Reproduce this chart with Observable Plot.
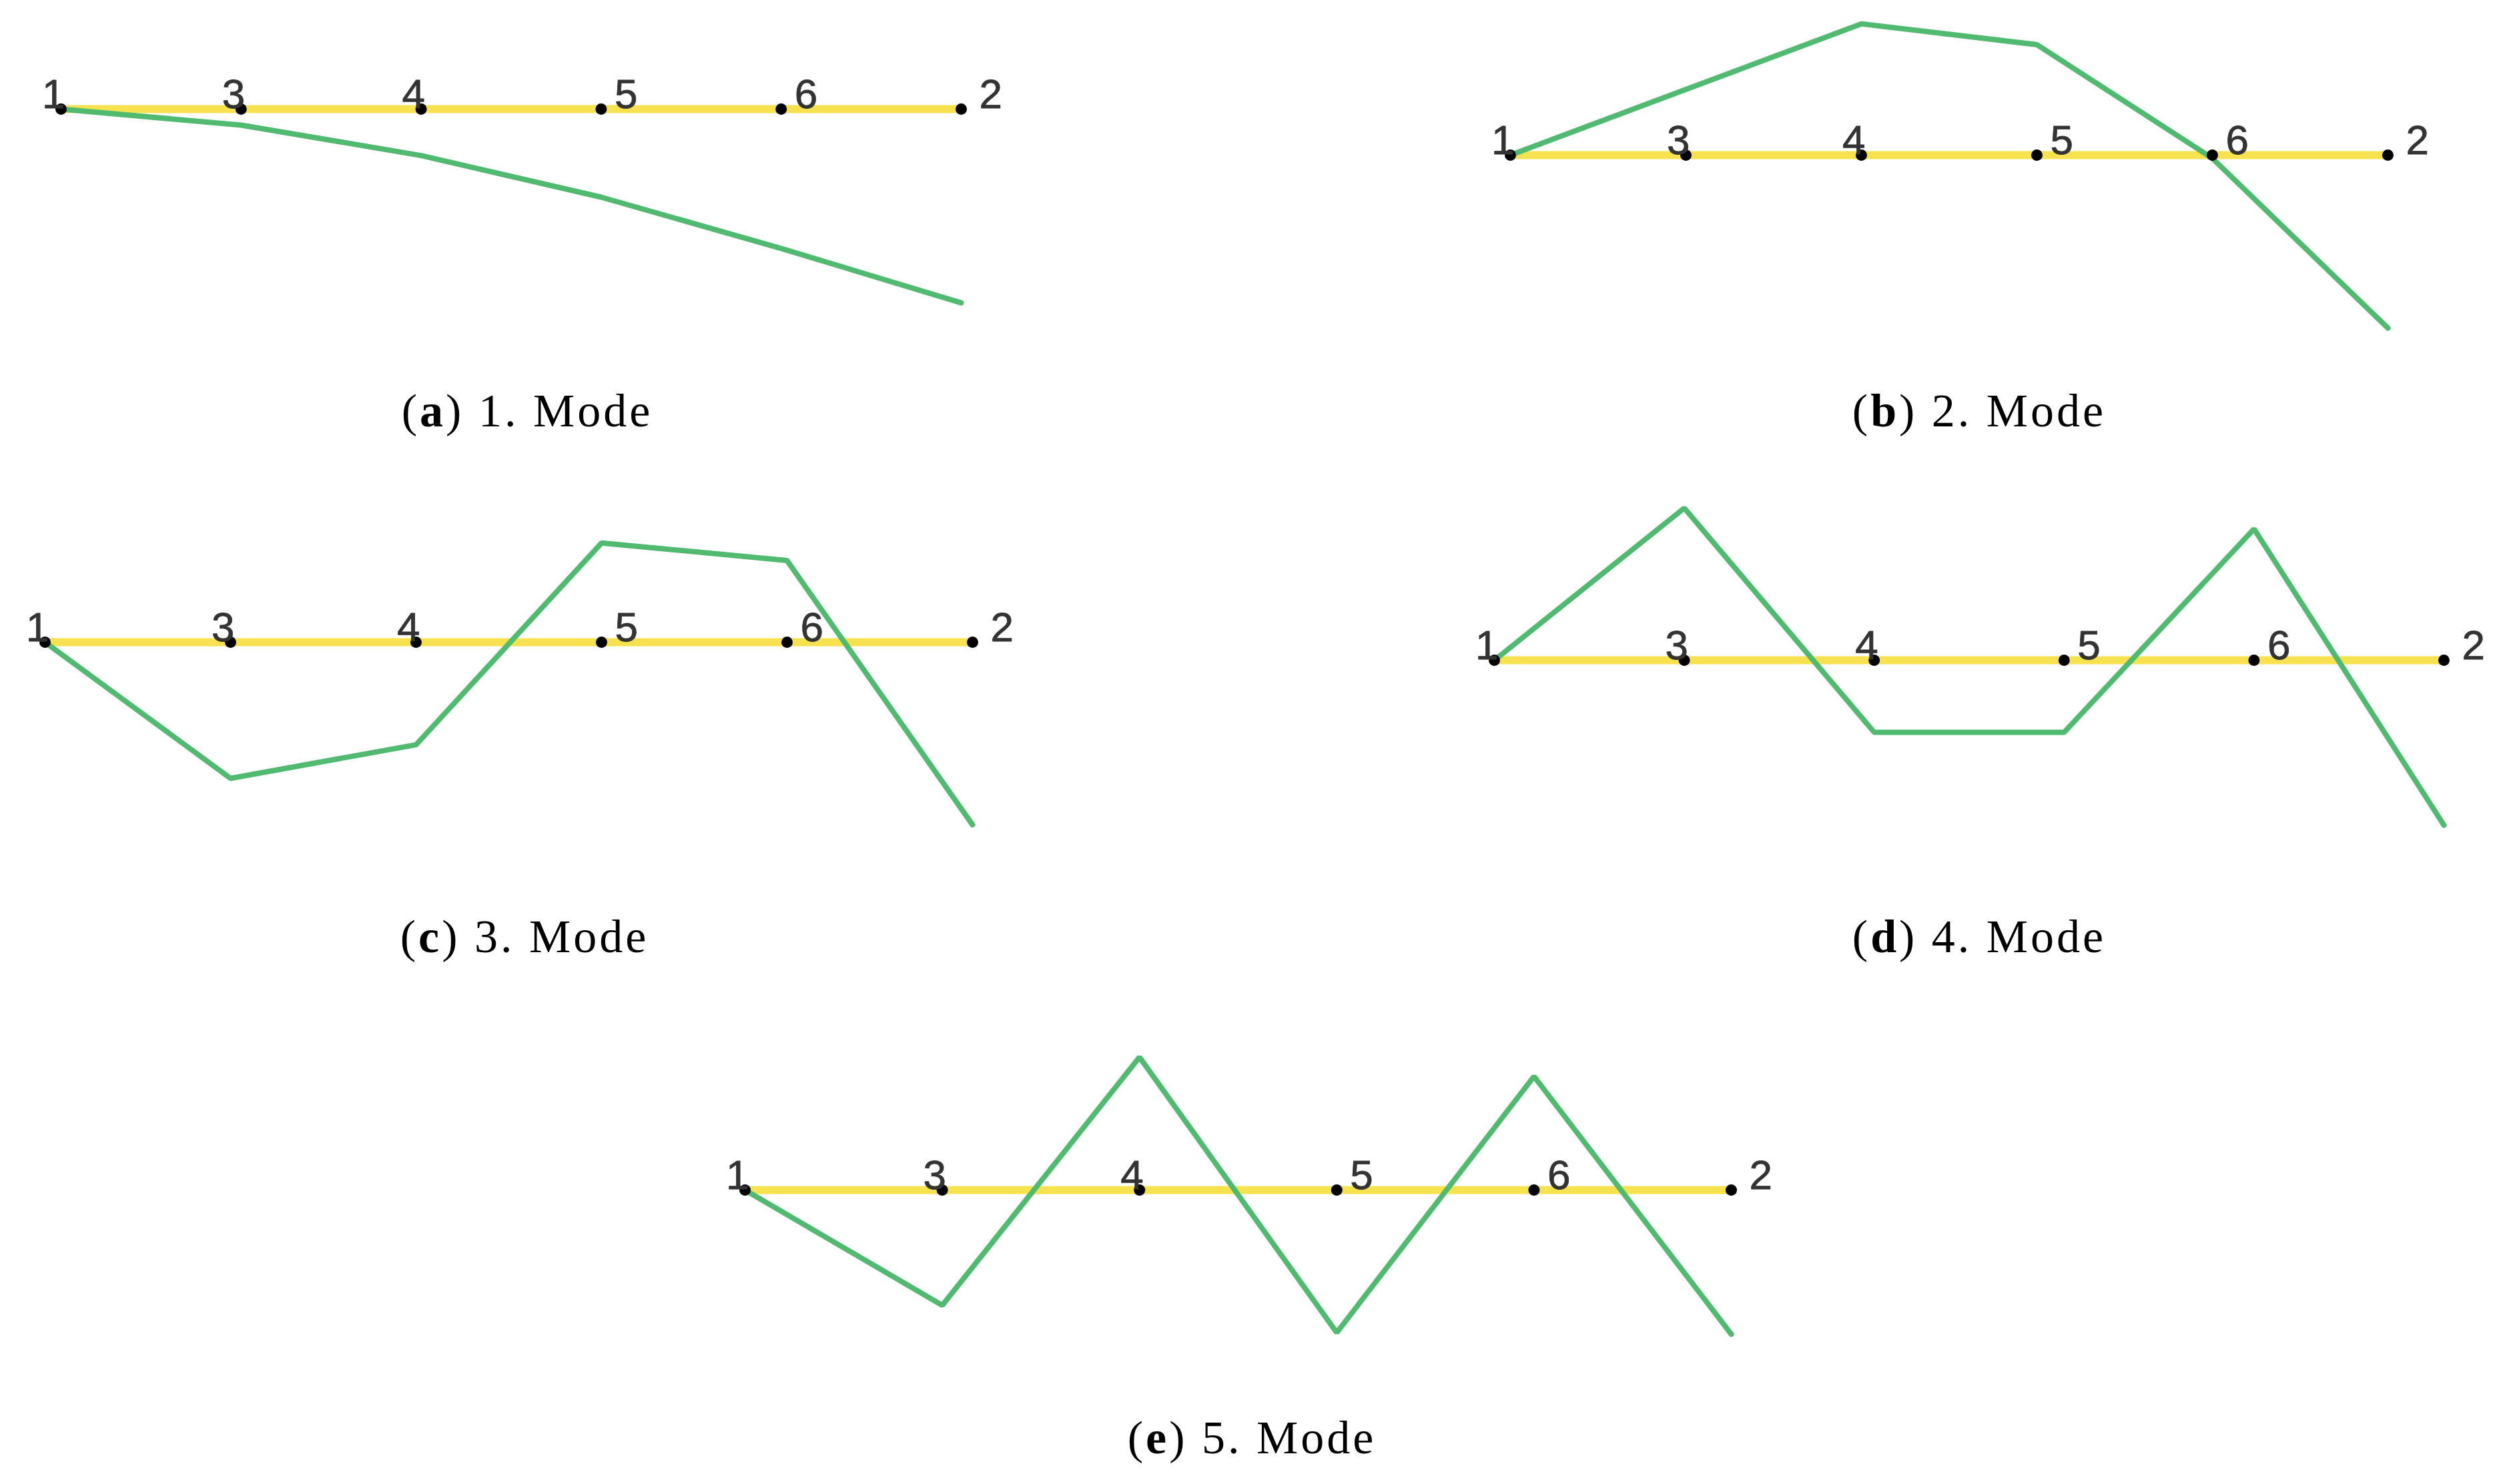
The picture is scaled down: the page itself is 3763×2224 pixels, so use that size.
<!DOCTYPE html>
<html>
<head>
<meta charset="utf-8">
<script src="https://cdn.jsdelivr.net/npm/d3@7"></script>
<script src="https://cdn.jsdelivr.net/npm/@observablehq/plot@0.6"></script>
<style>
  html, body { margin: 0; padding: 0; background: #ffffff; }
  #page { position: relative; width: 3763px; height: 2224px; overflow: hidden; background: #ffffff; }
  .panel { position: absolute; }
  .panel svg { overflow: visible; }
  .caption {
    position: absolute;
    transform: translateX(-50%);
    font-family: "Liberation Serif", "Times New Roman", serif;
    font-size: 70px;
    line-height: 1;
    letter-spacing: 4px;
    white-space: nowrap;
    color: #000;
  }
  .caption b { font-weight: bold; }
</style>
</head>
<body>
<div id="page"></div>
<script>
// ---- data ----
const nodeLabels = ["1", "3", "4", "5", "6", "2"];
const nodeIndex = [0, 1, 2, 3, 4, 5];
// modal deflections (upward positive) at each node
const mode1 = [0, -10, -29, -55, -87, -121];
const mode2 = [0, 41, 82, 69, -2, -108];
const mode3 = [0, -85, -64, 62, 51, -114];
const mode4 = [0, 95, -45, -45, 82, -103];
const mode5 = [0, -72, 83, -89, 71, -90];
const panelLetters = ["a", "b", "c", "d", "e"];
const panelTitles = ["1. Mode", "2. Mode", "3. Mode", "4. Mode", "5. Mode"];
const modes = [mode1, mode2, mode3, mode4, mode5];

// ---- layout (pixels on the page) ----
const layout = [
  {x1: 91,   x2: 1440, base: 163,  cx: 790,  cy: 638},
  {x1: 2263, x2: 3578, base: 232,  cx: 2966, cy: 638},
  {x1: 67,   x2: 1457, base: 962,  cx: 786,  cy: 1426},
  {x1: 2239, x2: 3662, base: 989,  cx: 2966, cy: 1426},
  {x1: 1116, x2: 2594, base: 1783, cx: 1876, cy: 2177}
];

const YELLOW = "#f6e14e";
const GREEN = "#50bb70";
const PX = 2.4;          // pixels per unit of deflection
const YMIN = -125, YMAX = 100;
const M = 100;           // side margin
const LABEL_FONT = "Liberation Sans, Arial, sans-serif";

const page = document.getElementById("page");

modes.forEach((vals, k) => {
  const L = layout[k];
  const data = nodeIndex.map(i => ({i, v: vals[i], label: nodeLabels[i]}));
  const W = (L.x2 - L.x1) + 2 * M;
  const H = (YMAX - YMIN) * PX;
  const chart = Plot.plot({
    width: W,
    height: H,
    marginLeft: M,
    marginRight: M,
    marginTop: 0,
    marginBottom: 0,
    x: {domain: [0, 5], axis: null},
    y: {domain: [YMIN, YMAX], axis: null},
    style: {background: "transparent", overflow: "visible"},
    marks: [
      Plot.line(data, {x: "i", y: () => 0, stroke: YELLOW, strokeWidth: 12}),
      Plot.line(data, {x: "i", y: "v", stroke: GREEN, strokeWidth: 8, strokeLinejoin: "miter"}),
      Plot.dot(data, {x: "i", y: () => 0, r: 8.5, fill: "#000"}),
      Plot.text(data.filter(d => d.i <= 2), {x: "i", y: () => 0, text: "label", textAnchor: "end", lineAnchor: "bottom", dx: 6, dy: -2, fontSize: 62, fill: "#333", stroke: "#333", strokeWidth: 0.8, fontFamily: LABEL_FONT}),
      Plot.text(data.filter(d => d.i === 3 || d.i === 4), {x: "i", y: () => 0, text: "label", textAnchor: "start", lineAnchor: "bottom", dx: 20, dy: -2, fontSize: 62, fill: "#333", stroke: "#333", strokeWidth: 0.8, fontFamily: LABEL_FONT}),
      Plot.text(data.filter(d => d.i === 5), {x: "i", y: () => 0, text: "label", textAnchor: "start", lineAnchor: "bottom", dx: 27, dy: -2, fontSize: 62, fill: "#333", stroke: "#333", strokeWidth: 0.8, fontFamily: LABEL_FONT})
    ]
  });
  const div = document.createElement("div");
  div.className = "panel";
  div.style.left = (L.x1 - M) + "px";
  div.style.top = (L.base - YMAX * PX) + "px";
  div.appendChild(chart);
  page.appendChild(div);

  const cap = document.createElement("div");
  cap.className = "caption";
  cap.style.left = L.cx + "px";
  cap.style.top = (L.cy - 57) + "px";
  cap.innerHTML = "(<b>" + panelLetters[k] + "</b>) " + panelTitles[k];
  page.appendChild(cap);
});
</script>
</body>
</html>
